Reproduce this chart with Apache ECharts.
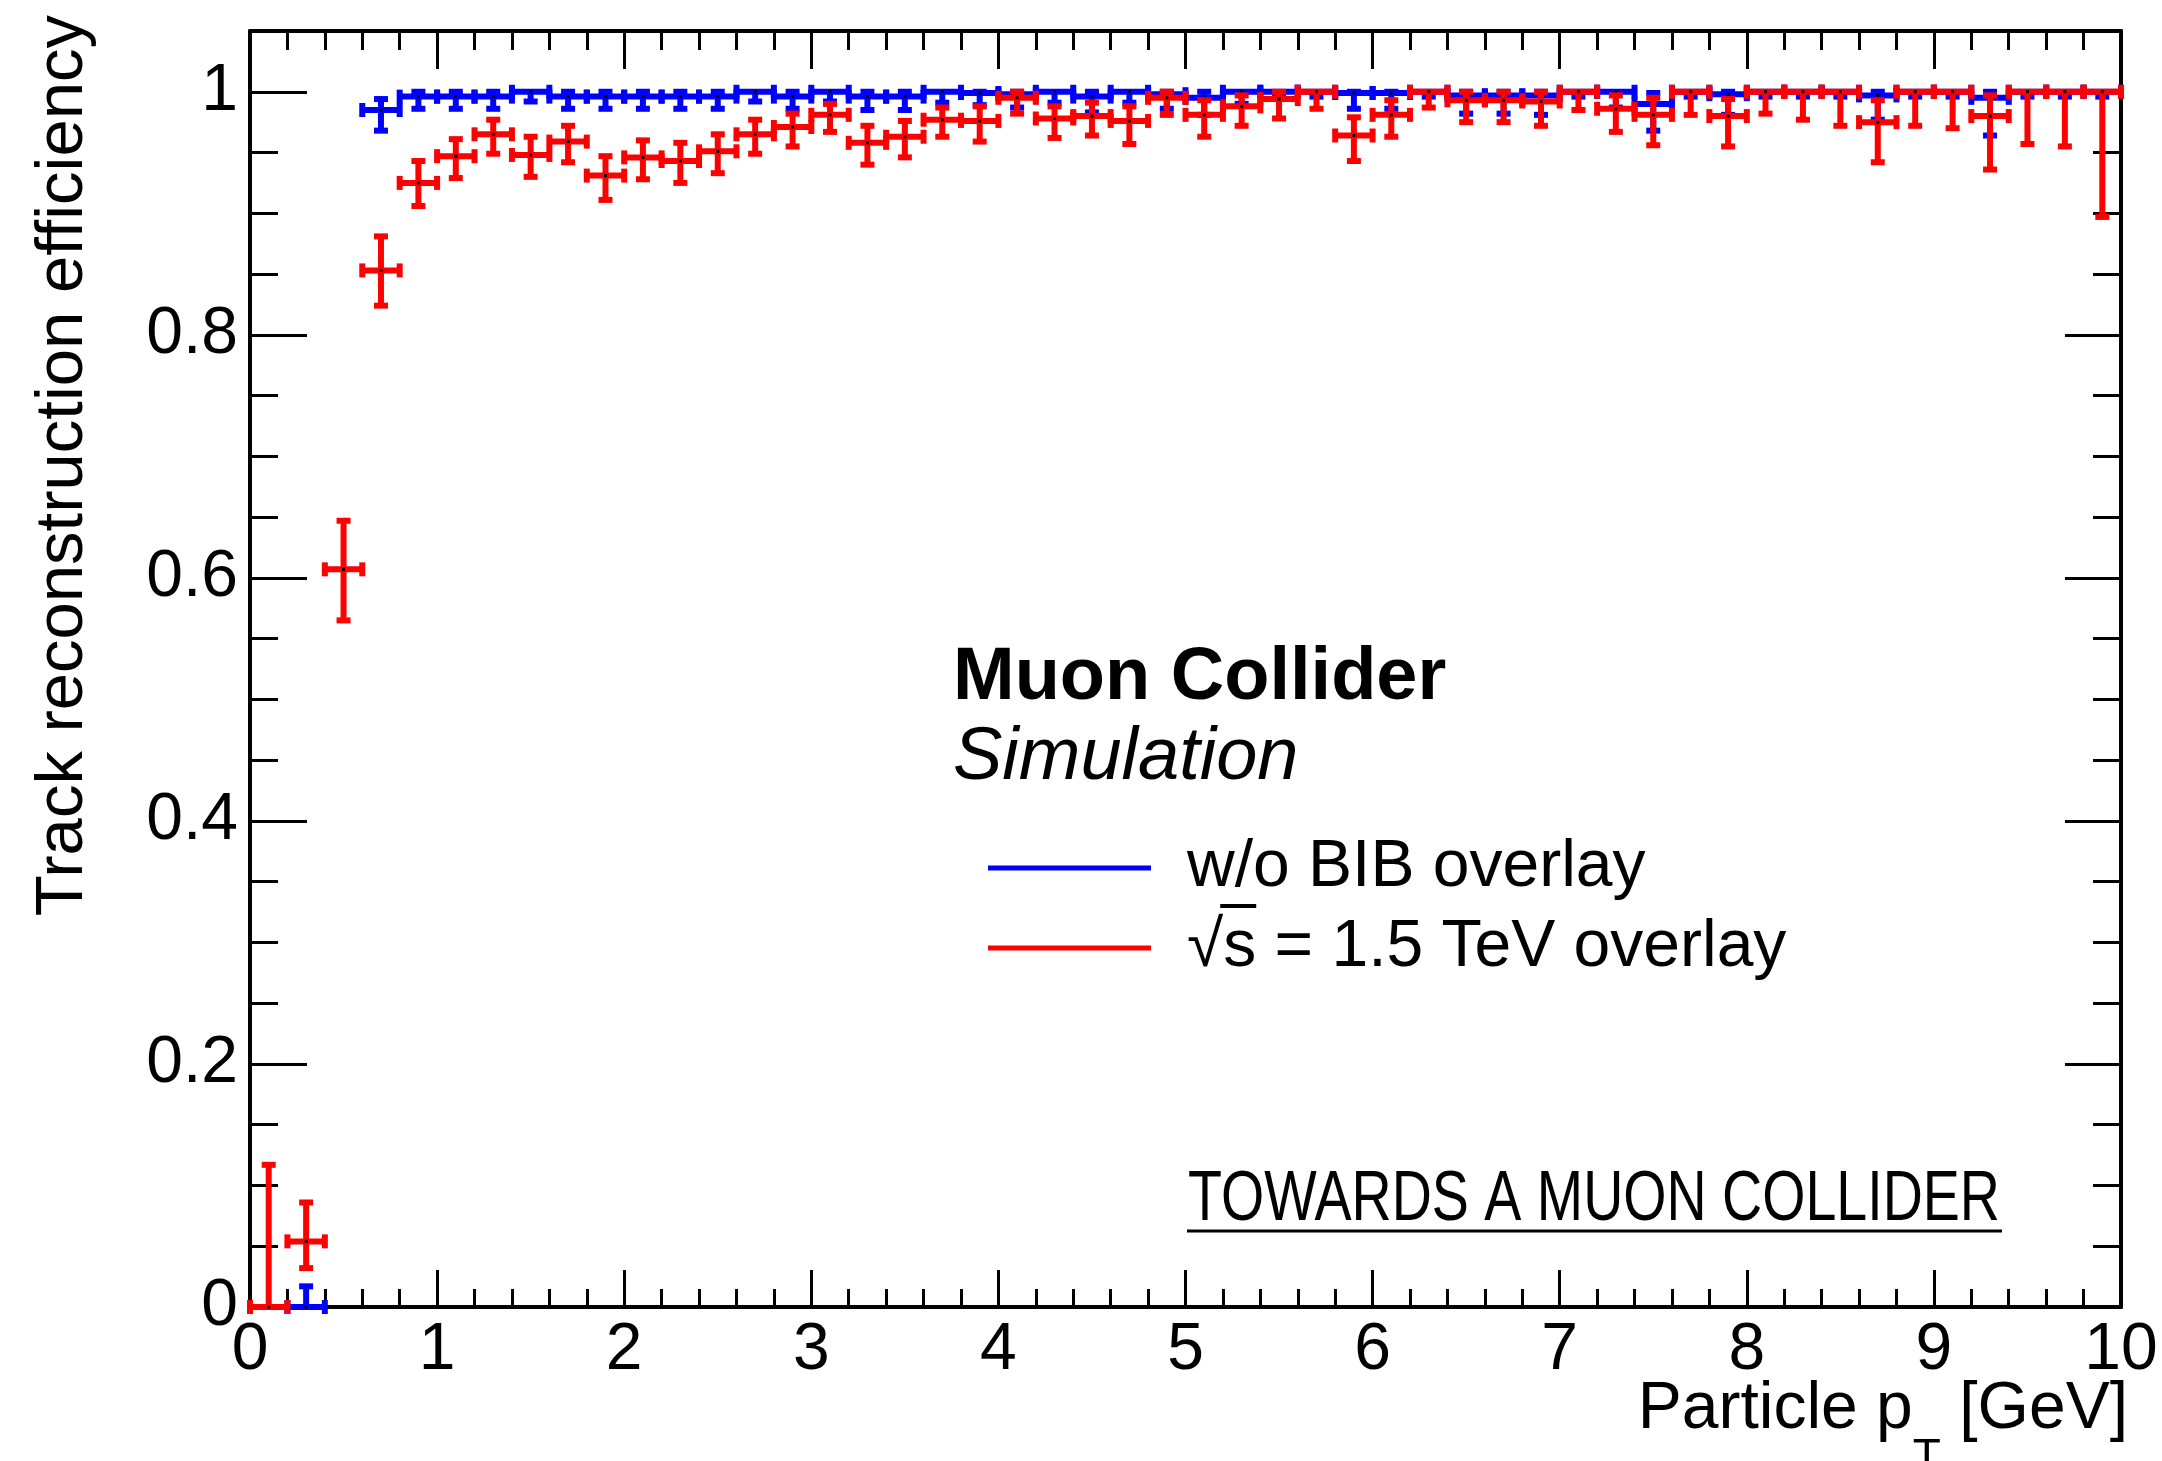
<!DOCTYPE html>
<html>
<head>
<meta charset="utf-8">
<script src="https://cdn.jsdelivr.net/npm/echarts@6/dist/echarts.min.js"></script>
<style>
html,body{margin:0;padding:0;background:#ffffff;}
#chart{width:2162px;height:1461px;}
</style>
</head>
<body>
<div id="chart"></div>
<script>
// ---------------- data ----------------
const ptBinCenters = [0.1,0.3,0.5,0.7,0.9,1.1,1.3,1.5,1.7,1.9,2.1,2.3,2.5,2.7,2.9,3.1,3.3,3.5,3.7,3.9,
  4.1,4.3,4.5,4.7,4.9,5.1,5.3,5.5,5.7,5.9,6.1,6.3,6.5,6.7,6.9,7.1,7.3,7.5,7.7,7.9,
  8.1,8.3,8.5,8.7,8.9,9.1,9.3,9.5,9.7,9.9];
const binHalfWidth = 0.1;

// w/o BIB overlay
const noBibEff = [null,0,null,0.985,0.996,0.996,0.996,1.000,0.996,0.996,0.996,0.996,0.996,1.000,0.996,1.000,0.996,0.996,1.000,0.999,
  0.998,1.000,0.996,1.000,0.998,0.995,1.000,1.000,1.000,0.999,0.999,1.000,0.997,0.997,0.997,1.000,1.000,0.990,1.000,0.998,
  1.000,1.000,1.000,0.997,1.000,1.000,0.995,1.000,1.000,1.000];
const noBibErrLow = [null,0,null,0.017,0.010,0.010,0.010,0.008,0.010,0.010,0.010,0.010,0.010,0.008,0.010,0.008,0.011,0.011,0.009,0.010,
  0.011,0.009,0.013,0.009,0.012,0.014,0.010,0.004,0.004,0.013,0.013,0.004,0.015,0.015,0.016,0.004,0.013,0.022,0.004,0.017,
  0.004,0.004,0.004,0.020,0.004,0.004,0.031,0.004,0.004,0.004];
const noBibErrHigh = [null,0.017,null,0.009,0.004,0.004,0.004,0,0.004,0.004,0.004,0.004,0.004,0,0.004,0,0.004,0.004,0,0.001,
  0.002,0,0.004,0,0.002,0.005,0,0,0,0.001,0.001,0,0.003,0.003,0.003,0,0,0.009,0,0.002,
  0,0,0,0.003,0,0,0.005,0,0,0];

// sqrt(s) = 1.5 TeV overlay
const bibEff = [0,0.054,0.607,0.853,0.925,0.947,0.965,0.948,0.959,0.931,0.946,0.943,0.951,0.965,0.971,0.981,0.958,0.963,0.977,0.976,
  0.995,0.978,0.980,0.976,0.995,0.981,0.988,0.994,1.000,0.964,0.981,1.000,0.993,0.993,0.992,1.000,0.986,0.981,1.000,0.980,
  1.000,1.000,1.000,0.975,1.000,1.000,0.980,1.000,1.000,1.000];
const bibErrLow = [0,0.022,0.042,0.029,0.019,0.018,0.016,0.018,0.017,0.020,0.018,0.018,0.018,0.016,0.016,0.014,0.018,0.017,0.014,0.017,
  0.013,0.016,0.016,0.019,0.014,0.018,0.016,0.016,0.014,0.021,0.018,0.013,0.018,0.018,0.020,0.015,0.019,0.025,0.019,0.025,
  0.018,0.023,0.028,0.033,0.028,0.030,0.044,0.043,0.045,0.103];
const bibErrHigh = [0.117,0.032,0.040,0.028,0.018,0.014,0.012,0.015,0.013,0.016,0.014,0.015,0.014,0.012,0.011,0.009,0.014,0.013,0.010,0.012,
  0.005,0.010,0.011,0.012,0.005,0.012,0.009,0.006,0,0.015,0.012,0,0.007,0.007,0.008,0,0.011,0.014,0,0.014,
  0,0,0,0.018,0,0,0.017,0,0,0];

const seriesNames = ['w/o BIB overlay', '\u221As = 1.5 TeV overlay'];
const xAxisTitle = 'Particle p{sub|T} [GeV]';
const yAxisTitle = 'Track reconstruction efficiency';
const labelTitle = 'Muon Collider';
const labelSubtitle = 'Simulation';
const watermark = 'TOWARDS A MUON COLLIDER';

// ---------------- style ----------------
const FONT = '"Liberation Sans", Arial, Helvetica, sans-serif';
const BLUE = '#0000ff';
const RED = '#ff0000';
const LW = 6;      // error bar line width
const CAP = 7;     // half cap length

function buildData(eff, lo, hi) {
  const out = [];
  ptBinCenters.forEach((x, i) => {
    if (eff[i] !== null) out.push([x, eff[i], lo[i], hi[i]]);
  });
  return out;
}

function makeRender(color) {
  return function (params, api) {
    const x = api.value(0), y = api.value(1), lo = api.value(2), hi = api.value(3);
    const pc = api.coord([x, y]);
    const pl = api.coord([x - binHalfWidth, y]);
    const pr = api.coord([x + binHalfWidth, y]);
    const st = { stroke: color, lineWidth: LW, lineCap: 'butt' };
    const ch = [
      { type: 'line', shape: { x1: pl[0], y1: pc[1], x2: pr[0], y2: pc[1] }, style: st },
      { type: 'line', shape: { x1: pl[0], y1: pc[1] - CAP, x2: pl[0], y2: pc[1] + CAP }, style: st },
      { type: 'line', shape: { x1: pr[0], y1: pc[1] - CAP, x2: pr[0], y2: pc[1] + CAP }, style: st }
    ];
    if (hi > 0) {
      const ph = api.coord([x, y + hi]);
      ch.push({ type: 'line', shape: { x1: pc[0], y1: pc[1], x2: pc[0], y2: ph[1] }, style: st });
      ch.push({ type: 'line', shape: { x1: pc[0] - CAP, y1: ph[1], x2: pc[0] + CAP, y2: ph[1] }, style: st });
    }
    if (lo > 0) {
      const pb = api.coord([x, y - lo]);
      ch.push({ type: 'line', shape: { x1: pc[0], y1: pc[1], x2: pc[0], y2: pb[1] }, style: st });
      ch.push({ type: 'line', shape: { x1: pc[0] - CAP, y1: pb[1], x2: pc[0] + CAP, y2: pb[1] }, style: st });
    }
    ch.push({ type: 'rect', shape: { x: pc[0] - 1.5, y: pc[1] - 1.5, width: 3, height: 3 }, style: { fill: '#000' } });
    return { type: 'group', children: ch };
  };
}

// measure text for layout helpers
const mctx = document.createElement('canvas').getContext('2d');
function measure(text, font) { mctx.font = font; return mctx.measureText(text).width; }

const legendLeft = 988, legendIconW = 163, legendSpacer = 31;
const legendTextX = legendLeft + legendIconW + 5 + legendSpacer;
const sqrtW = measure('\u221A', '66px ' + FONT);
const sW = measure('s', '66px ' + FONT);
const wmFont = 'normal 70px ' + FONT;
const wmScale = 812 / measure(watermark, wmFont);

const axisLineStyle = { color: '#000', width: 4 };
const tickStyle = { color: '#000', width: 3 };

const option = {
  animation: false,
  backgroundColor: '#ffffff',
  grid: { left: 250, right: 41, top: 31, bottom: 154, containLabel: false, outerBoundsMode: 'none' },
  xAxis: [
    {
      type: 'value', position: 'bottom', min: 0, max: 10, interval: 1,
      name: xAxisTitle, nameLocation: 'end', nameGap: 7, nameMoveOverlap: false,
      nameTextStyle: {
        fontFamily: FONT, fontSize: 66, color: '#000', align: 'right', verticalAlign: 'top',
        lineHeight: 142, padding: [32, 0, 0, 0],
        rich: { sub: { fontFamily: FONT, fontSize: 46, lineHeight: 46, verticalAlign: 'bottom', color: '#000' } }
      },
      axisLine: { show: true, onZero: false, lineStyle: axisLineStyle },
      axisTick: { show: true, inside: true, length: 37, lineStyle: tickStyle },
      minorTick: { show: true, splitNumber: 5, length: 18, lineStyle: tickStyle },
      axisLabel: { show: true, margin: 11, fontFamily: FONT, fontSize: 66, color: '#000' },
      splitLine: { show: false }, minorSplitLine: { show: false }
    },
    {
      type: 'value', position: 'top', min: 0, max: 10, interval: 1,
      axisLine: { show: true, onZero: false, lineStyle: axisLineStyle },
      axisTick: { show: true, inside: true, length: 38, lineStyle: tickStyle },
      minorTick: { show: true, splitNumber: 5, length: 19, lineStyle: tickStyle },
      axisLabel: { show: false }, splitLine: { show: false }
    }
  ],
  yAxis: [
    {
      type: 'value', position: 'left', min: 0, max: 1.05, interval: 0.2,
      name: yAxisTitle, nameLocation: 'end', nameRotate: 90, nameGap: 16, nameMoveOverlap: false,
      nameTextStyle: { fontFamily: FONT, fontSize: 67, color: '#000', align: 'right', verticalAlign: 'bottom', lineHeight: 67, padding: [0, 0, 153, 0] },
      axisLine: { show: true, onZero: false, lineStyle: axisLineStyle },
      axisTick: { show: true, inside: true, length: 57, lineStyle: tickStyle },
      axisLabel: {
        show: true, margin: 12, fontFamily: FONT, fontSize: 66, color: '#000',
        formatter: v => (v > 1.001 ? '' : String(parseFloat(v.toFixed(2))))
      },
      splitLine: { show: false }
    },
    {
      type: 'value', position: 'left', min: 0, max: 1.05, interval: 0.05,
      axisLine: { show: false, onZero: false },
      axisTick: { show: true, inside: true, length: 28, lineStyle: tickStyle },
      axisLabel: { show: false }, splitLine: { show: false }
    },
    {
      type: 'value', position: 'right', min: 0, max: 1.05, interval: 0.2,
      axisLine: { show: true, onZero: false, lineStyle: axisLineStyle },
      axisTick: { show: true, inside: true, length: 56, lineStyle: tickStyle },
      axisLabel: { show: false }, splitLine: { show: false }
    },
    {
      type: 'value', position: 'right', min: 0, max: 1.05, interval: 0.05,
      axisLine: { show: false, onZero: false },
      axisTick: { show: true, inside: true, length: 28, lineStyle: tickStyle },
      axisLabel: { show: false }, splitLine: { show: false }
    }
  ],
  legend: {
    orient: 'vertical', left: legendLeft, top: 828, padding: 0, itemGap: 0,
    itemWidth: legendIconW, itemHeight: 5, icon: 'rect', selectedMode: false,
    data: seriesNames,
    formatter: n => '{g|}' + n,
    textStyle: { fontFamily: FONT, fontSize: 66, color: '#000', lineHeight: 80, rich: { g: { width: legendSpacer } } }
  },
  graphic: [
    { type: 'text', x: 953, y: 679, style: { text: labelTitle, font: 'bold 74px ' + FONT, fill: '#000', align: 'left', verticalAlign: 'middle' } },
    { type: 'text', x: 953, y: 758, style: { text: labelSubtitle, font: 'italic 74px ' + FONT, fill: '#000', align: 'left', verticalAlign: 'middle' } },
    { type: 'line', shape: { x1: legendTextX + sqrtW - 3, y1: 906, x2: legendTextX + sqrtW + sW, y2: 906 }, style: { stroke: '#000', lineWidth: 4 } },
    { type: 'text', x: 1188, y: 1201, scaleX: wmScale, style: { text: watermark, font: wmFont, fill: '#000', align: 'left', verticalAlign: 'middle' } },
    { type: 'line', shape: { x1: 1187, y1: 1231, x2: 2002, y2: 1231 }, style: { stroke: '#000', lineWidth: 3 } }
  ],
  series: [
    {
      type: 'custom', name: seriesNames[0], coordinateSystem: 'cartesian2d', xAxisIndex: 0, yAxisIndex: 0,
      encode: { x: 0, y: 1 }, itemStyle: { color: BLUE }, clip: false, silent: true, z: 3,
      renderItem: makeRender(BLUE), data: buildData(noBibEff, noBibErrLow, noBibErrHigh)
    },
    {
      type: 'custom', name: seriesNames[1], coordinateSystem: 'cartesian2d', xAxisIndex: 0, yAxisIndex: 0,
      encode: { x: 0, y: 1 }, itemStyle: { color: RED }, clip: false, silent: true, z: 4,
      renderItem: makeRender(RED), data: buildData(bibEff, bibErrLow, bibErrHigh)
    }
  ]
};

const chart = echarts.init(document.getElementById('chart'), null, { renderer: 'canvas', width: 2162, height: 1461 });
chart.setOption(option);
</script>
</body>
</html>
